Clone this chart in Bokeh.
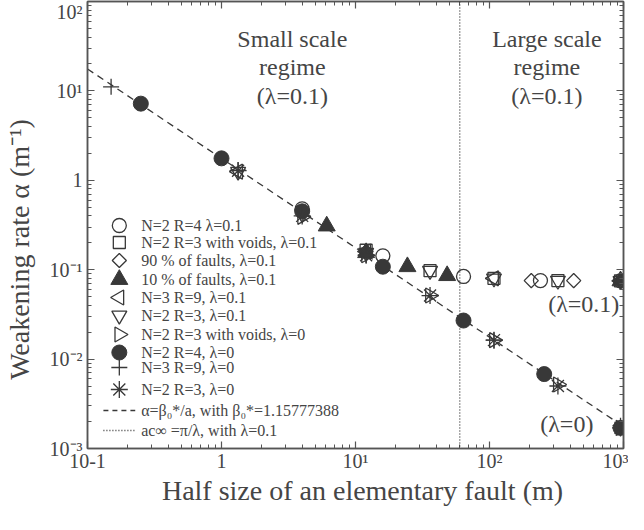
import math
from bokeh.plotting import figure
from bokeh.models import Range1d, LinearScale, LogAxis, Span, FixedTicker
from bokeh.embed import file_html
from bokeh.resources import INLINE
from bokeh.core.properties import value

# ---------------- data ----------------
# open circles: N=2 R=4, lambda=0.1
c01_a = [4, 16, 64, 240, 950]
c01_v = [0.48, 0.143, 0.084, 0.0755, 0.075]
# open squares: N=2 R=3 with voids, lambda=0.1
sqv01_a = [12, 36, 108, 324, 950]
sqv01_v = [0.165, 0.0975, 0.080, 0.0755, 0.075]
# open diamonds: 90 % of faults, lambda=0.1
d90_a = [12, 205, 425, 950]
d90_v = [0.16, 0.0755, 0.0755, 0.075]
# filled triangles: 10 % of faults, lambda=0.1
t10_a = [6.1, 12, 24.4, 48.3, 950]
t10_v = [0.308, 0.155, 0.108, 0.0858, 0.075]
# left triangles: N=3 R=9, lambda=0.1
lt9_a = [1.33, 12, 108, 950]
lt9_v = [1.25, 0.16, 0.080, 0.075]
# down triangles: N=2 R=3, lambda=0.1
dt3_a = [1.33, 4, 12, 36, 108, 324, 950]
dt3_v = [1.25, 0.42, 0.155, 0.0975, 0.080, 0.0755, 0.075]
# right triangles: N=2 R=3 with voids, lambda=0
rtv0_a = [4, 12, 36, 108, 324, 950]
rtv0_v = [0.39, 0.145, 0.0514, 0.0163, 0.0052, 0.0017]
# filled circles: N=2 R=4, lambda=0
fc0_a = [0.25, 1, 4, 16, 64, 256, 950]
fc0_v = [7.2, 1.76, 0.45, 0.108, 0.027, 0.0068, 0.0017]
# plus: N=3 R=9, lambda=0
pl0_a = [0.15, 1.33, 12, 108, 950]
pl0_v = [11.1, 1.30, 0.146, 0.0163, 0.0018]
# asterisk: N=2 R=3, lambda=0
as0_a = [1.33, 4, 12, 36, 108, 324, 950]
as0_v = [1.28, 0.40, 0.145, 0.0514, 0.0163, 0.0050, 0.0017]
# dashed law alpha = beta/a (end points)
law_a = [0.1, 1000]
law_v = [17.6, 0.00176]
# dotted critical size
ac_value = 60

legend_labels = [
    "N=2 R=4 λ=0.1",
    "N=2 R=3 with voids, λ=0.1",
    "90 % of faults, λ=0.1",
    "10 % of faults, λ=0.1",
    "N=3 R=9, λ=0.1",
    "N=2 R=3, λ=0.1",
    "N=2 R=3 with voids, λ=0",
    "N=2 R=4, λ=0",
    "N=3 R=9, λ=0",
    "N=2 R=3, λ=0",
    "α=β₀*/a, with β₀*=1.15777388",
    "ac∞ =π/λ, with λ=0.1",
]

x_ticks = [0.1, 1, 10, 100, 1000]
x_tick_labels = ["10-1", "1", "10¹", "10²", "10³"]
y_ticks = [1e-3, 1e-2, 1e-1, 1, 10, 100]
y_tick_labels = ["10⁻³", "10⁻²", "10⁻¹", "1", "10¹", "10²"]
x_title = "Half size of an elementary fault (m)"
y_title = "Weakening rate α (m⁻¹)"

# ---------------- styling / layout ----------------
FONT = "Liberation Serif"
INK = "#383838"
TXT = "#454545"
FRAME = "#555555"
W, H = 628, 514
BL, BR, BT, BB = 84, 5, 1, 66
FW, FH = W - BL - BR, H - BT - BB
NB = "\u00a0"  # non-breaking space used to nudge the axis titles

p = figure(width=W, height=H, x_axis_type="log", y_axis_type="log",
           x_range=Range1d(0.1, 1000), y_range=Range1d(1e-3, 1e2),
           output_backend="svg", toolbar_location=None,
           min_border_left=BL, min_border_right=BR, min_border_top=BT,
           min_border_bottom=BB)
p.grid.visible = False
p.outline_line_color = FRAME
p.outline_line_width = 1.5
p.background_fill_color = "white"
p.border_fill_color = "white"

minor_x = [m * 10 ** k for k in range(-1, 3) for m in range(2, 10)]
minor_y = [m * 10 ** k for k in range(-3, 2) for m in range(2, 10)]


def style_axis(ax, ticks, minors, show_labels):
    ax.ticker = FixedTicker(ticks=ticks, minor_ticks=minors)
    ax.major_tick_in = 7
    ax.major_tick_out = 0
    ax.minor_tick_in = 4
    ax.minor_tick_out = 0
    ax.axis_line_color = FRAME
    ax.axis_line_width = 1.5
    ax.major_tick_line_color = FRAME
    ax.minor_tick_line_color = FRAME
    ax.major_tick_line_width = 1.2
    ax.minor_tick_line_width = 1
    if show_labels:
        ax.major_label_text_font = FONT
        ax.major_label_text_font_size = "20px"
        ax.major_label_text_color = TXT
        ax.axis_label_text_font = FONT
        ax.axis_label_text_font_style = "normal"
        ax.axis_label_text_color = TXT
        ax.axis_label_text_font_size = "28px"
    else:
        ax.major_label_text_font_size = "2px"
        ax.major_label_text_alpha = 0
        ax.major_label_standoff = 0


xa = p.xaxis[0]
style_axis(xa, x_ticks, minor_x, True)
xa.major_label_overrides = dict(zip(x_ticks, x_tick_labels))
xa.major_label_standoff = 1
xa.axis_label = NB * 2 + x_title
xa.axis_label_standoff = 0

ya = p.yaxis[0]
style_axis(ya, y_ticks, minor_y, True)
ya.major_label_overrides = dict(zip(y_ticks, y_tick_labels))
ya.major_label_standoff = 5
ya.axis_label = y_title + NB * 7
ya.axis_label_standoff = 12

top_ax = LogAxis()
style_axis(top_ax, x_ticks, minor_x, False)
p.add_layout(top_ax, "above")
right_ax = LogAxis()
style_axis(right_ax, y_ticks, minor_y, False)
p.add_layout(right_ax, "right")

# ---------------- lines ----------------
p.line(law_a, law_v, line_color=INK, line_width=1.3, line_dash="7 5")
p.add_layout(Span(location=ac_value, dimension="height", line_color=INK,
                  line_width=1.3, line_dash="1 2"))

# ---------------- series ----------------
open_kw = dict(fill_color=None, line_color=INK, line_width=1.3)
fill_kw = dict(fill_color=INK, line_color=INK, line_width=1)

series = [
    (c01_a, c01_v, dict(marker="circle", size=14, **open_kw)),
    (sqv01_a, sqv01_v, dict(marker="square", size=12, **open_kw)),
    (d90_a, d90_v, dict(marker="square", angle=math.pi / 4, size=10, **open_kw)),
    (t10_a, t10_v, dict(marker="triangle", size=17, **fill_kw)),
    (lt9_a, lt9_v, dict(marker="triangle", angle=math.pi / 2, size=15, **open_kw)),
    (dt3_a, dt3_v, dict(marker="inverted_triangle", size=15, **open_kw)),
    (rtv0_a, rtv0_v, dict(marker="triangle", angle=-math.pi / 2, size=15, **open_kw)),
    (fc0_a, fc0_v, dict(marker="circle", size=15, **fill_kw)),
    (pl0_a, pl0_v, dict(marker="cross", size=16, fill_color=None, line_color=INK, line_width=1.3)),
    (as0_a, as0_v, dict(marker="asterisk", size=17, fill_color=None, line_color=INK, line_width=1.3)),
]
for xs, ys, kw in series:
    p.scatter(xs, ys, **kw)

# ---------------- hand-drawn legend and annotations (pixel frame) -------------
p.extra_x_ranges = {"px": Range1d(0, FW)}
p.extra_y_ranges = {"px": Range1d(FH, 0)}
p.extra_x_scales = {"px": LinearScale()}
p.extra_y_scales = {"px": LinearScale()}
PX = dict(x_range_name="px", y_range_name="px")

leg_mark_x = 32
leg_text_x = 54
leg_rows = [224, 241, 259, 278, 296, 314, 333, 351, 366, 388, 409, 429]

for (xs, ys, kw), row in zip(series, leg_rows[:10]):
    p.scatter([leg_mark_x], [row], **kw, **PX)
p.segment(x0=[16], x1=[48], y0=[leg_rows[10]], y1=[leg_rows[10]],
          line_color=INK, line_width=1.3, line_dash="5 4", **PX)
p.segment(x0=[16], x1=[48], y0=[leg_rows[11]], y1=[leg_rows[11]],
          line_color=INK, line_width=1.3, line_dash="1 2", **PX)
p.text(x=[leg_text_x] * len(legend_labels), y=leg_rows, text=legend_labels,
       text_font=value(FONT), text_font_size="16px", text_color=TXT,
       text_align="left", text_baseline="middle", **PX)

notes = ["Small scale", "regime", "(λ=0.1)", "Large scale", "regime", "(λ=0.1)",
         "(λ=0.1)", "(λ=0)"]
notes_x = [206, 206, 206, 462, 462, 462, 499, 482]
notes_y = [37, 65, 94, 37, 65, 94, 302, 422]
p.text(x=notes_x, y=notes_y, text=notes, text_font=value(FONT),
       text_font_size="24px", text_color=TXT, text_align="center",
       text_baseline="middle", **PX)

open("out.html", "w").write(file_html(p, INLINE))
